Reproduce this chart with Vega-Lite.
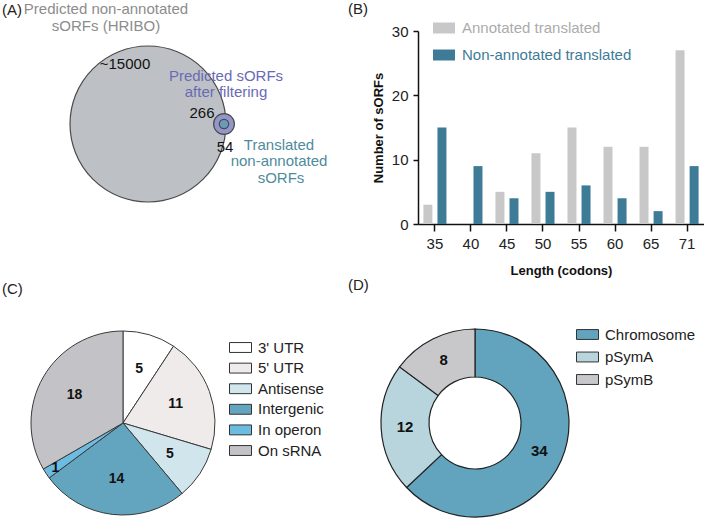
{
  "$schema": "https://vega.github.io/schema/vega-lite/v6.json",
  "padding": {"left": 1, "top": 2, "right": 0, "bottom": 0},
  "autosize": {"type": "pad"},
  "config": {
    "font": "Liberation Sans",
    "view": {"stroke": null},
    "title": {"fontSize": 15, "fontWeight": "normal", "color": "#222222", "anchor": "start", "frame": "group"}
  },
  "columns": 2,
  "bounds": "flush",
  "align": "each",
  "spacing": {"row": 107, "column": 173},
  "resolve": {
    "scale": {"color": "independent", "fill": "independent", "size": "independent", "x": "independent", "y": "independent", "theta": "independent"},
    "legend": {"color": "independent"}
  },
  "datasets": {
    "venn": [
      {"set": "Predicted non-annotated sORFs (HRIBO)", "count": 15000, "cx": 147, "cy": 93},
      {"set": "Predicted sORFs after filtering", "count": 266, "cx": 223, "cy": 93},
      {"set": "Translated non-annotated sORFs", "count": 54, "cx": 223, "cy": 93}
    ],
    "vennLabels": [
      {"label": "(A)", "group": "panel", "lx": 11, "ly": -21},
      {"label": "Predicted non-annotated", "group": "all", "lx": 105, "ly": -22},
      {"label": "sORFs (HRIBO)", "group": "all", "lx": 105, "ly": -5.5},
      {"label": "~15000", "group": "count", "lx": 124, "ly": 32.5},
      {"label": "Predicted sORFs", "group": "filtered", "lx": 225, "ly": 45},
      {"label": "after filtering", "group": "filtered", "lx": 225, "ly": 61},
      {"label": "266", "group": "count", "lx": 201, "ly": 81.5},
      {"label": "54", "group": "count", "lx": 224, "ly": 116},
      {"label": "Translated", "group": "translated", "lx": 278, "ly": 113.5},
      {"label": "non-annotated", "group": "translated", "lx": 278, "ly": 130},
      {"label": "sORFs", "group": "translated", "lx": 280, "ly": 146.5}
    ],
    "lengths": [
      {"length": "35", "series": "Annotated translated", "count": 3},
      {"length": "35", "series": "Non-annotated translated", "count": 15},
      {"length": "40", "series": "Annotated translated", "count": 0},
      {"length": "40", "series": "Non-annotated translated", "count": 9},
      {"length": "45", "series": "Annotated translated", "count": 5},
      {"length": "45", "series": "Non-annotated translated", "count": 4},
      {"length": "50", "series": "Annotated translated", "count": 11},
      {"length": "50", "series": "Non-annotated translated", "count": 5},
      {"length": "55", "series": "Annotated translated", "count": 15},
      {"length": "55", "series": "Non-annotated translated", "count": 6},
      {"length": "60", "series": "Annotated translated", "count": 12},
      {"length": "60", "series": "Non-annotated translated", "count": 4},
      {"length": "65", "series": "Annotated translated", "count": 12},
      {"length": "65", "series": "Non-annotated translated", "count": 2},
      {"length": "71", "series": "Annotated translated", "count": 27},
      {"length": "71", "series": "Non-annotated translated", "count": 9}
    ],
    "location": [
      {"category": "3' UTR", "count": 5, "idx": 1},
      {"category": "5' UTR", "count": 11, "idx": 2},
      {"category": "Antisense", "count": 5, "idx": 3},
      {"category": "Intergenic", "count": 14, "idx": 4},
      {"category": "In operon", "count": 1, "idx": 5},
      {"category": "On sRNA", "count": 18, "idx": 6}
    ],
    "replicon": [
      {"replicon": "Chromosome", "count": 34, "idx": 1},
      {"replicon": "pSymA", "count": 12, "idx": 2},
      {"replicon": "pSymB", "count": 8, "idx": 3}
    ]
  },
  "concat": [
    {
      "width": 244,
      "height": 193,
      "layer": [
        {
          "data": {"name": "venn"},
          "mark": {"type": "point", "shape": "circle", "filled": true, "opacity": 1, "stroke": "#4a4a4a", "strokeWidth": 1.2},
          "encoding": {
            "x": {"field": "cx", "type": "quantitative", "scale": {"domain": [0, 244], "nice": false, "zero": false}, "axis": null},
            "y": {"field": "cy", "type": "quantitative", "scale": {"domain": [0, 193], "nice": false, "zero": false, "reverse": true}, "axis": null},
            "size": {"field": "count", "type": "quantitative", "scale": {"domain": [0, 15000], "range": [0, 24328]}, "legend": null},
            "fill": {"field": "set", "type": "nominal", "sort": null, "scale": {"domain": ["Predicted non-annotated sORFs (HRIBO)", "Predicted sORFs after filtering", "Translated non-annotated sORFs"], "range": ["#bdc1c5", "#9496cb", "#6a9aba"]}, "legend": null}
          }
        },
        {
          "data": {"name": "vennLabels"},
          "mark": {"type": "text", "fontSize": 15, "align": "center", "baseline": "middle"},
          "encoding": {
            "x": {"field": "lx", "type": "quantitative"},
            "y": {"field": "ly", "type": "quantitative"},
            "text": {"field": "label", "type": "nominal"},
            "color": {"field": "group", "type": "nominal", "scale": {"domain": ["panel", "all", "count", "filtered", "translated"], "range": ["#222222", "#8c8c8c", "#111111", "#6a6ab4", "#4e8b9c"]}, "legend": null}
          }
        }
      ]
    },
    {
      "width": 286,
      "height": 193,
      "title": {"text": "(B)", "dx": -70, "offset": 0},
      "data": {"name": "lengths"},
      "mark": {"type": "bar"},
      "encoding": {
        "x": {
          "field": "length", "type": "ordinal",
          "scale": {"paddingInner": 0.36, "paddingOuter": 0.15},
          "axis": {"title": "Length (codons)", "labelAngle": 0, "labelFontSize": 15, "labelColor": "#222222", "tickSize": 7, "tickWidth": 1.5, "tickColor": "#111111", "domainColor": "#111111", "domainWidth": 1.5, "labelPadding": 5, "titleFontSize": 13, "titleFontWeight": "bold", "titlePadding": 13, "titleColor": "#111111"}
        },
        "xOffset": {"field": "series", "type": "nominal", "scale": {"paddingInner": 0.36}},
        "y": {
          "field": "count", "type": "quantitative",
          "scale": {"domain": [0, 30], "nice": false},
          "axis": {"title": "Number of sORFs", "values": [0, 10, 20, 30], "grid": false, "labelFontSize": 15, "labelColor": "#222222", "tickSize": 5, "tickWidth": 1.5, "tickColor": "#111111", "domainColor": "#111111", "domainWidth": 1.5, "labelPadding": 5, "titleFontSize": 13, "titleFontWeight": "bold", "titlePadding": 6, "titleColor": "#111111"}
        },
        "color": {
          "field": "series", "type": "nominal",
          "scale": {"domain": ["Annotated translated", "Non-annotated translated"], "range": ["#c8c8c8", "#3e7b97"]},
          "legend": {
            "title": null, "orient": "none", "legendX": 15, "legendY": -14,
            "symbolType": "M-1,-0.5L1,-0.5L1,0.5L-1,0.5Z", "symbolSize": 484, "symbolStrokeWidth": 0,
            "labelFontSize": 15, "labelOffset": 7, "rowPadding": 8, "labelLimit": 0,
            "encode": {"labels": {"update": {"fill": {"signal": "datum.label === 'Annotated translated' ? '#ababab' : '#3e7b97'"}}}}
          }
        }
      }
    },
    {
      "width": 244,
      "height": 184,
      "title": {"text": "(C)", "dx": 1, "offset": 32},
      "data": {"name": "location"},
      "encoding": {
        "theta": {"field": "count", "type": "quantitative", "stack": true},
        "order": {"field": "idx", "type": "quantitative"},
        "color": {
          "field": "category", "type": "nominal",
          "scale": {"domain": ["3' UTR", "5' UTR", "Antisense", "Intergenic", "In operon", "On sRNA"], "range": ["#ffffff", "#efebeb", "#d0e5ec", "#63a5bf", "#6cbbe0", "#c3c3c7"]},
          "legend": {
            "title": null, "orient": "none", "legendX": 228, "legendY": 5,
            "symbolType": "M-1,-0.45L1,-0.45L1,0.45L-1,0.45Z", "symbolSize": 484, "symbolStrokeColor": "#333333", "symbolStrokeWidth": 1,
            "labelFontSize": 15, "labelColor": "#222222", "labelOffset": 6, "rowPadding": 0.6, "labelLimit": 0
          }
        }
      },
      "layer": [
        {"mark": {"type": "arc", "outerRadius": 92, "stroke": "#3a3a3a", "strokeWidth": 1}},
        {
          "mark": {"type": "text", "radius": 56, "fontSize": 14, "fontWeight": "bold"},
          "encoding": {
            "text": {"field": "count", "type": "quantitative", "condition": {"test": "datum.category === 'In operon'", "value": ""}},
            "color": {"value": "#111111"}
          }
        },
        {
          "mark": {"type": "text", "radius": 81, "fontSize": 14, "fontWeight": "bold"},
          "encoding": {
            "text": {"field": "count", "type": "quantitative", "condition": {"test": "datum.category !== 'In operon'", "value": ""}},
            "color": {"value": "#111111"}
          }
        }
      ]
    },
    {
      "width": 114,
      "height": 184,
      "title": {"text": "(D)", "dx": -70, "offset": 30},
      "data": {"name": "replicon"},
      "encoding": {
        "theta": {"field": "count", "type": "quantitative", "stack": true},
        "order": {"field": "idx", "type": "quantitative"},
        "color": {
          "field": "replicon", "type": "nominal",
          "scale": {"domain": ["Chromosome", "pSymA", "pSymB"], "range": ["#62a3bd", "#b8d5de", "#c8c8cb"]},
          "legend": {
            "title": null, "orient": "none", "legendX": 158, "legendY": -8,
            "symbolType": "M-1,-0.45L1,-0.45L1,0.45L-1,0.45Z", "symbolSize": 484, "symbolStrokeColor": "#333333", "symbolStrokeWidth": 1,
            "labelFontSize": 15, "labelColor": "#222222", "labelOffset": 6, "rowPadding": 2.5, "labelLimit": 0
          }
        }
      },
      "layer": [
        {"mark": {"type": "arc", "outerRadius": 94, "innerRadius": 46, "stroke": "#222222", "strokeWidth": 1.2}},
        {
          "mark": {"type": "text", "radius": 70, "fontSize": 15, "fontWeight": "bold"},
          "encoding": {
            "text": {"field": "count", "type": "quantitative"},
            "color": {"value": "#111111"}
          }
        }
      ]
    }
  ]
}
